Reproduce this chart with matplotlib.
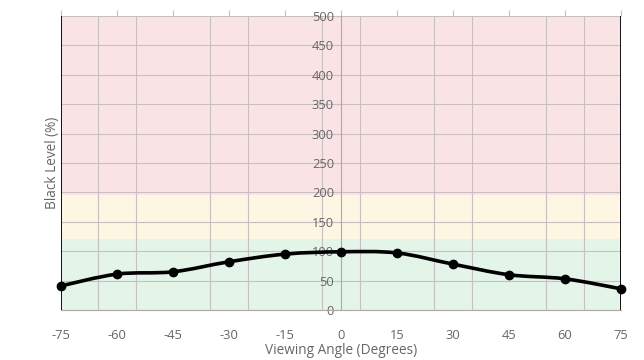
import numpy as np
import matplotlib
matplotlib.use("Agg")
import matplotlib.pyplot as plt
from matplotlib.path import Path
from matplotlib.patches import PathPatch

angles = [-75, -60, -45, -30, -15, 0, 15, 30, 45, 60, 75]
black_level = [41, 61, 65, 82, 95, 99, 97, 78, 60, 53, 36]
xtick_labels = ["-75", "-60", "-45", "-30", "-15", "0", "15", "30", "45", "60", "75"]
yticks = [0, 50, 100, 150, 200, 250, 300, 350, 400, 450, 500]

# colour bands (low, high, colour)
bands = [(0, 120, "#e3f4e8"), (120, 195, "#fdf6e3"), (195, 500, "#f9e3e5")]

plt.rcParams['font.family'] = ['Open Sans', 'DejaVu Sans']
text_col = "#666666"
grid_col = "#c9bfc1"

fig = plt.figure(figsize=(6.44, 3.6), dpi=100)
ax = fig.add_axes([61 / 644, 1 - 310 / 360, 560 / 644, 294 / 360])

for lo, hi, col in bands:
    ax.axhspan(lo, hi, color=col, zorder=0, lw=0)

ax.set_xlim(-75, 75)
ax.set_ylim(0, 500)

# grid
ax.set_xticks(np.arange(-75, 76, 10), minor=True)
ax.set_xticks(angles)
ax.set_xticklabels(xtick_labels)
ax.set_yticks(yticks)
ax.grid(which="minor", axis="x", color=grid_col, lw=0.8, zorder=0.5)
ax.grid(which="major", axis="y", color=grid_col, lw=0.8, zorder=0.5)
ax.tick_params(axis="x", which="both", length=0, pad=14, labelsize=9.3, labelcolor=text_col)

# y axis sits on x = 0
ax.spines["left"].set_position(("data", 0))
ax.spines["left"].set_color("#b0a8a8")
ax.spines["left"].set_linewidth(0.8)
ax.tick_params(axis="y", length=4, color=grid_col, labelsize=9.3, labelcolor=text_col, pad=1)
ax.spines["right"].set_visible(False)
ax.spines["top"].set_visible(False)
ax.spines["bottom"].set_color("#b0a8a8")
ax.spines["bottom"].set_linewidth(0.8)
ax.axvline(-75, color="black", lw=1.3, zorder=3)
ax.axvline(75, color="black", lw=1.3, zorder=3)

# small ticks above the plot
top = ax.secondary_xaxis("top")
top.set_xticks(angles)
top.set_xticklabels([])
top.tick_params(length=4, color=grid_col)
top.spines["top"].set_visible(False)

# smooth curve through the points (catmull-rom as bezier segments)
px = np.array(angles, dtype=float)
py = np.array(black_level, dtype=float)
verts = [(px[0], py[0])]
codes = [Path.MOVETO]
for i in range(len(px) - 1):
    p0 = (px[i - 1], py[i - 1]) if i > 0 else (px[i], py[i])
    p1 = (px[i], py[i])
    p2 = (px[i + 1], py[i + 1])
    p3 = (px[i + 2], py[i + 2]) if i + 2 < len(px) else (px[i + 1], py[i + 1])
    t = 0.35
    c1 = (p1[0] + (p2[0] - p0[0]) * t / 2, p1[1] + (p2[1] - p0[1]) * t / 2)
    c2 = (p2[0] - (p3[0] - p1[0]) * t / 2, p2[1] - (p3[1] - p1[1]) * t / 2)
    verts += [c1, c2, p2]
    codes += [Path.CURVE4] * 3
ax.add_patch(PathPatch(Path(verts, codes), fill=False, lw=2.6, ec="black", zorder=4, clip_on=False))
ax.plot(angles, black_level, "o", color="black", ms=6, zorder=5, clip_on=False)

ax.set_xlabel("Viewing Angle (Degrees)", color=text_col, fontsize=9.8)
ax.xaxis.set_label_coords(0.5, -0.112)
ax.set_ylabel("Black Level (%)", color=text_col, fontsize=9.8)
ax.yaxis.set_label_coords(-0.002, 0.5)

fig.savefig("out.png", dpi=100)
